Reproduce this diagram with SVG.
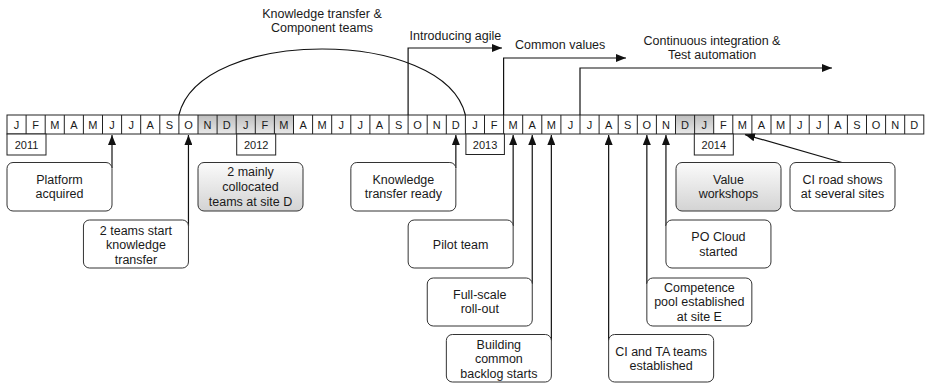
<svg xmlns="http://www.w3.org/2000/svg" width="926" height="385" viewBox="0 0 926 385">
<style>
text{font-family:"Liberation Sans",Arial,sans-serif;fill:#1a1a1a}
.m{font-size:11px;text-anchor:middle}
.t{font-size:12.5px;text-anchor:middle}
.l{font-size:12.5px}
.box{fill:#fff;stroke:#333;stroke-width:1}
.gbox{fill:url(#gb);stroke:#333;stroke-width:1}
.yr{fill:#fff;stroke:#222;stroke-width:1}
.cn{fill:none;stroke:#111;stroke-width:1.2}
</style>
<defs>
<linearGradient id="gc" x1="0" y1="0" x2="0" y2="1"><stop offset="0" stop-color="#bdbdbd"/><stop offset="1" stop-color="#e8e8e8"/></linearGradient>
<linearGradient id="gb" x1="0" y1="0" x2="0" y2="1"><stop offset="0" stop-color="#fbfbfb"/><stop offset="1" stop-color="#d3d3d3"/></linearGradient>
<marker id="ah" markerUnits="userSpaceOnUse" markerWidth="11" markerHeight="8" refX="10" refY="4" orient="auto"><path d="M0,0 L10,4 L0,8 z" fill="#111"/></marker>
</defs>

<g id="timeline">
<rect x="7" y="115" width="916.8" height="19" fill="#fff"/>
<rect x="198" y="115" width="95.5" height="19" fill="url(#gc)"/>
<rect x="675.5" y="115" width="38.2" height="19" fill="url(#gc)"/>
<rect x="7" y="115" width="916.8" height="19" fill="none" stroke="#222" stroke-width="1"/>
<path d="M26.1,115V134M45.2,115V134M64.3,115V134M83.4,115V134M102.5,115V134M121.6,115V134M140.7,115V134M159.8,115V134M178.9,115V134M198,115V134M217.1,115V134M236.2,115V134M255.3,115V134M274.4,115V134M293.5,115V134M312.6,115V134M331.7,115V134M350.8,115V134M369.9,115V134M389,115V134M408.1,115V134M427.2,115V134M446.3,115V134M465.4,115V134M484.5,115V134M503.6,115V134M522.7,115V134M541.8,115V134M560.9,115V134M580,115V134M599.1,115V134M618.2,115V134M637.3,115V134M656.4,115V134M675.5,115V134M694.6,115V134M713.7,115V134M732.8,115V134M751.9,115V134M771,115V134M790.1,115V134M809.2,115V134M828.3,115V134M847.4,115V134M866.5,115V134M885.6,115V134M904.7,115V134" stroke="#222" stroke-width="1"/>
<text class="m" x="16.55" y="128.5">J</text><text class="m" x="35.65" y="128.5">F</text><text class="m" x="54.75" y="128.5">M</text><text class="m" x="73.85" y="128.5">A</text><text class="m" x="92.95" y="128.5">M</text><text class="m" x="112.05" y="128.5">J</text><text class="m" x="131.15" y="128.5">J</text><text class="m" x="150.25" y="128.5">A</text><text class="m" x="169.35" y="128.5">S</text><text class="m" x="188.45" y="128.5">O</text><text class="m" x="207.55" y="128.5">N</text><text class="m" x="226.65" y="128.5">D</text>
<text class="m" x="245.75" y="128.5">J</text><text class="m" x="264.85" y="128.5">F</text><text class="m" x="283.95" y="128.5">M</text><text class="m" x="303.05" y="128.5">A</text><text class="m" x="322.15" y="128.5">M</text><text class="m" x="341.25" y="128.5">J</text><text class="m" x="360.35" y="128.5">J</text><text class="m" x="379.45" y="128.5">A</text><text class="m" x="398.55" y="128.5">S</text><text class="m" x="417.65" y="128.5">O</text><text class="m" x="436.75" y="128.5">N</text><text class="m" x="455.85" y="128.5">D</text>
<text class="m" x="474.95" y="128.5">J</text><text class="m" x="494.05" y="128.5">F</text><text class="m" x="513.15" y="128.5">M</text><text class="m" x="532.25" y="128.5">A</text><text class="m" x="551.35" y="128.5">M</text><text class="m" x="570.45" y="128.5">J</text><text class="m" x="589.55" y="128.5">J</text><text class="m" x="608.65" y="128.5">A</text><text class="m" x="627.75" y="128.5">S</text><text class="m" x="646.85" y="128.5">O</text><text class="m" x="665.95" y="128.5">N</text><text class="m" x="685.05" y="128.5">D</text>
<text class="m" x="704.15" y="128.5">J</text><text class="m" x="723.25" y="128.5">F</text><text class="m" x="742.35" y="128.5">M</text><text class="m" x="761.45" y="128.5">A</text><text class="m" x="780.55" y="128.5">M</text><text class="m" x="799.65" y="128.5">J</text><text class="m" x="818.75" y="128.5">J</text><text class="m" x="837.85" y="128.5">A</text><text class="m" x="856.95" y="128.5">S</text><text class="m" x="876.05" y="128.5">O</text><text class="m" x="895.15" y="128.5">N</text><text class="m" x="914.25" y="128.5">D</text>
</g>

<g id="years">
<rect class="yr" x="7" y="134" width="39" height="21"/><text class="m" x="26.5" y="148.5">2011</text>
<rect class="yr" x="236.7" y="134" width="39" height="21"/><text class="m" x="256.2" y="148.5">2012</text>
<rect class="yr" x="465.9" y="134" width="38.5" height="20.5"/><text class="m" x="485.1" y="148.5">2013</text>
<rect class="yr" x="694.3" y="134" width="39" height="21"/><text class="m" x="713.8" y="148.5">2014</text>
</g>

<g id="connectors">
<path class="cn" d="M178.9,115 C200,27 444,27 465.4,115"/>
<path class="cn" d="M408.1,115 V48 H502" marker-end="url(#ah)"/>
<path class="cn" d="M503.6,115 V58 H626" marker-end="url(#ah)"/>
<path class="cn" d="M580,115 V68 H832" marker-end="url(#ah)"/>
<path class="cn" d="M112,168 V135" marker-end="url(#ah)"/>
<path class="cn" d="M188.45,226 V135" marker-end="url(#ah)"/>
<path class="cn" d="M455.85,168 V135" marker-end="url(#ah)"/>
<path class="cn" d="M513.15,226 V135" marker-end="url(#ah)"/>
<path class="cn" d="M532.25,284 V135" marker-end="url(#ah)"/>
<path class="cn" d="M551.35,341 V135" marker-end="url(#ah)"/>
<path class="cn" d="M608.65,341 V135" marker-end="url(#ah)"/>
<path class="cn" d="M646.85,284 V135" marker-end="url(#ah)"/>
<path class="cn" d="M665.95,226 V135" marker-end="url(#ah)"/>
<path class="cn" d="M842,162.5 L745,134.6" marker-end="url(#ah)"/>
</g>

<g id="phase-labels">
<text class="t" x="322" y="17.5">Knowledge transfer &amp;</text>
<text class="t" x="322" y="31.5">Component teams</text>
<text class="l" x="409.5" y="39.5">Introducing agile</text>
<text class="l" x="515" y="48.5">Common values</text>
<text class="t" x="712" y="44.5">Continuous integration &amp;</text>
<text class="t" x="712" y="58.5">Test automation</text>
</g>

<g id="platform-acquired"><rect class="box" x="7" y="162.5" width="105" height="48.5" rx="6"/><text class="t" x="59.5" y="183.5">Platform</text><text class="t" x="59.5" y="198">acquired</text></g>
<g id="two-teams"><rect class="box" x="83.45" y="220" width="105" height="48" rx="6"/><text class="t" x="135.95" y="234.5">2 teams start</text><text class="t" x="135.95" y="249">knowledge</text><text class="t" x="135.95" y="263.5">transfer</text></g>
<g id="collocated"><rect class="gbox" x="198" y="162.5" width="105" height="48.5" rx="6"/><text class="t" x="250.5" y="176">2 mainly</text><text class="t" x="250.5" y="191">collocated</text><text class="t" x="250.5" y="206">teams at site D</text></g>
<g id="kt-ready"><rect class="box" x="350.85" y="162.5" width="105" height="48.5" rx="6"/><text class="t" x="403.35" y="183.5">Knowledge</text><text class="t" x="403.35" y="198">transfer ready</text></g>
<g id="pilot"><rect class="box" x="408.15" y="220" width="105" height="48" rx="6"/><text class="t" x="460.65" y="248.5">Pilot team</text></g>
<g id="full-scale"><rect class="box" x="427.25" y="278" width="105" height="48" rx="6"/><text class="t" x="479.75" y="298.5">Full-scale</text><text class="t" x="479.75" y="313">roll-out</text></g>
<g id="backlog"><rect class="box" x="446.35" y="334.5" width="105" height="47.5" rx="6"/><text class="t" x="498.85" y="348.5">Building</text><text class="t" x="498.85" y="363">common</text><text class="t" x="498.85" y="377.5">backlog starts</text></g>
<g id="ci-ta"><rect class="box" x="608.65" y="334.5" width="105" height="47.5" rx="6"/><text class="t" x="661.15" y="356">CI and TA teams</text><text class="t" x="661.15" y="370">established</text></g>
<g id="competence"><rect class="box" x="646.85" y="278" width="105" height="48" rx="6"/><text class="t" x="699.35" y="291.5">Competence</text><text class="t" x="699.35" y="306">pool established</text><text class="t" x="699.35" y="320.5">at site E</text></g>
<g id="po-cloud"><rect class="box" x="665.95" y="220" width="105" height="48" rx="6"/><text class="t" x="718.45" y="241">PO Cloud</text><text class="t" x="718.45" y="255.5">started</text></g>
<g id="value-workshops"><rect class="gbox" x="676" y="162.5" width="105" height="48.5" rx="6"/><text class="t" x="728.5" y="183.5">Value</text><text class="t" x="728.5" y="198">workshops</text></g>
<g id="ci-road"><rect class="box" x="790" y="162.5" width="105" height="48.5" rx="6"/><text class="t" x="842.5" y="183.5">CI road shows</text><text class="t" x="842.5" y="198">at several sites</text></g>
</svg>
